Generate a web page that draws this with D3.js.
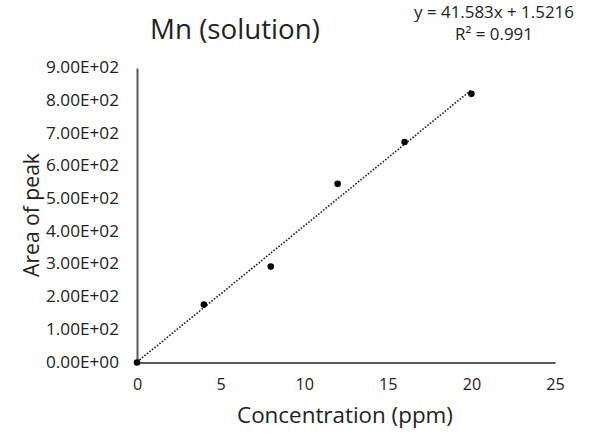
<!DOCTYPE html>
<html><head><meta charset="utf-8">
<script src="https://cdn.jsdelivr.net/npm/d3@7"></script>
<style>body{margin:0;background:#fff}svg{display:block}text{font-family:"Open Sans",sans-serif;fill:#222}</style>
</head><body><svg id="c" width="590" height="434"></svg>
<script>
const concentration = [0, 4, 8, 12, 16, 20];
const area = [0, 177, 293, 546, 674, 821];
const xTicks = [0, 5, 10, 15, 20, 25];
const yTicks = [0, 100, 200, 300, 400, 500, 600, 700, 800, 900];
const slope = 41.583, intercept = 1.5216;
const title = "Mn (solution)";
const eqText = ["y = 41.583x + 1.5216", "R² = 0.991"];
const xTitle = "Concentration (ppm)";
const yTitle = "Area of peak";

const svg = d3.select("#c");
const x = d3.scaleLinear().domain([0, 25]).range([137, 555]);
const y = d3.scaleLinear().domain([0, 900]).range([362.5, 68]);

const fmt = v => { const e = v === 0 ? 0 : Math.floor(Math.log10(v)); const m = v / Math.pow(10, e); return m.toFixed(2) + "E+" + String(e).padStart(2, "0"); };

// fit a text node to a target width by scaling its font size
function fitSize(str, target) {
  const t = svg.append("text").style("font-size", "100px").text(str);
  const w = t.node().getComputedTextLength();
  t.remove();
  return 100 * target / w;
}
const yTickSize = fitSize("9.00E+02", 73);
const xTickSize = fitSize("10", 18.5);

svg.append("g").attr("transform", `translate(0,${y(0)})`)
  .call(d3.axisBottom(x).tickValues(xTicks).tickSize(0).tickPadding(0).tickFormat(d3.format("d")))
  .call(g => { g.select(".domain").attr("stroke", "#595959").attr("stroke-width", 2); g.selectAll("text").style("font-size", xTickSize + "px").attr("fill", "#222").attr("dy", null).attr("y", 23).attr("dominant-baseline", "middle"); });
svg.append("g").attr("transform", `translate(${x(0)},0)`)
  .call(d3.axisLeft(y).tickValues(yTicks).tickSize(0).tickPadding(18).tickFormat(fmt))
  .call(g => { g.select(".domain").attr("stroke", "#595959").attr("stroke-width", 2); g.selectAll("text").style("font-size", yTickSize + "px").attr("fill", "#222").attr("dy", null).attr("dominant-baseline", "middle"); });

svg.append("line")
  .attr("x1", x(0)).attr("y1", y(intercept)).attr("x2", x(20)).attr("y2", y(slope * 20 + intercept))
  .attr("stroke", "#222").attr("stroke-width", 1.6).attr("stroke-dasharray", "1.6,1.6");

svg.selectAll("circle.pt").data(concentration).join("circle").attr("class", "pt")
  .attr("cx", (d) => x(d)).attr("cy", (d, i) => y(area[i])).attr("r", 3.3).attr("fill", "#000");

svg.append("text").attr("x", 235).attr("y", 39).attr("text-anchor", "middle").style("font-size", fitSize(title, 170) + "px").text(title);
const eqSize = fitSize(eqText[0], 160);
svg.append("text").attr("x", 494).attr("y", 18).attr("text-anchor", "middle").style("font-size", eqSize + "px").text(eqText[0]);
svg.append("text").attr("x", 494).attr("y", 39.5).attr("text-anchor", "middle").style("font-size", eqSize + "px").text(eqText[1]);
svg.append("text").attr("x", 345).attr("y", 423).attr("text-anchor", "middle").style("font-size", fitSize(xTitle, 216) + "px").text(xTitle);
svg.append("text").attr("transform", "translate(39,215) rotate(-90)").attr("text-anchor", "middle").style("font-size", fitSize(yTitle, 124) + "px").text(yTitle);
</script></body></html>
